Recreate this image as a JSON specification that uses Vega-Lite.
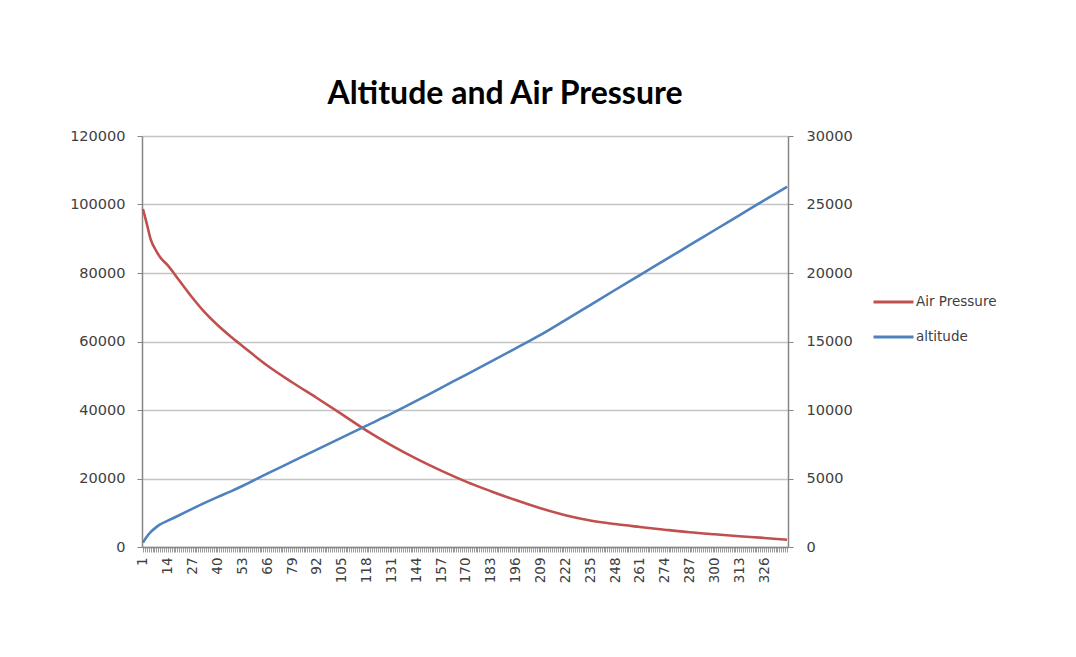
{
  "$schema": "https://vega.github.io/schema/vega-lite/v6.json",
  "width": 646,
  "height": 411,
  "autosize": "none",
  "padding": {"left": 142, "top": 136, "right": 288, "bottom": 110},
  "background": "white",
  "config": {"view": {"stroke": null}},
  "title": {"text": "Altitude and Air Pressure", "font": "Lato", "fontSize": 32, "fontWeight": "bold", "color": "#000000", "anchor": "middle", "dx": 40, "offset": 17},
  "data": {"values": [
    {"index": 1, "series": "Air Pressure", "value": 98700},
    {"index": 3, "series": "Air Pressure", "value": 94400},
    {"index": 5, "series": "Air Pressure", "value": 89900},
    {"index": 8, "series": "Air Pressure", "value": 86400},
    {"index": 10, "series": "Air Pressure", "value": 84600},
    {"index": 14, "series": "Air Pressure", "value": 82200},
    {"index": 20, "series": "Air Pressure", "value": 77800},
    {"index": 27, "series": "Air Pressure", "value": 72700},
    {"index": 33, "series": "Air Pressure", "value": 68700},
    {"index": 40, "series": "Air Pressure", "value": 64800},
    {"index": 47, "series": "Air Pressure", "value": 61400},
    {"index": 53, "series": "Air Pressure", "value": 58700},
    {"index": 66, "series": "Air Pressure", "value": 53000},
    {"index": 79, "series": "Air Pressure", "value": 48100},
    {"index": 92, "series": "Air Pressure", "value": 43500},
    {"index": 105, "series": "Air Pressure", "value": 38800},
    {"index": 118, "series": "Air Pressure", "value": 34000},
    {"index": 131, "series": "Air Pressure", "value": 29700},
    {"index": 144, "series": "Air Pressure", "value": 25800},
    {"index": 157, "series": "Air Pressure", "value": 22300},
    {"index": 170, "series": "Air Pressure", "value": 19100},
    {"index": 183, "series": "Air Pressure", "value": 16300},
    {"index": 196, "series": "Air Pressure", "value": 13700},
    {"index": 209, "series": "Air Pressure", "value": 11300},
    {"index": 222, "series": "Air Pressure", "value": 9300},
    {"index": 235, "series": "Air Pressure", "value": 7750},
    {"index": 248, "series": "Air Pressure", "value": 6700},
    {"index": 261, "series": "Air Pressure", "value": 5850},
    {"index": 274, "series": "Air Pressure", "value": 5050},
    {"index": 287, "series": "Air Pressure", "value": 4300},
    {"index": 300, "series": "Air Pressure", "value": 3700},
    {"index": 313, "series": "Air Pressure", "value": 3150},
    {"index": 326, "series": "Air Pressure", "value": 2650},
    {"index": 338, "series": "Air Pressure", "value": 2100},
    {"index": 1, "series": "altitude", "value": 330},
    {"index": 3, "series": "altitude", "value": 750},
    {"index": 5, "series": "altitude", "value": 1080},
    {"index": 8, "series": "altitude", "value": 1450},
    {"index": 10, "series": "altitude", "value": 1650},
    {"index": 14, "series": "altitude", "value": 1920},
    {"index": 20, "series": "altitude", "value": 2320},
    {"index": 27, "series": "altitude", "value": 2800},
    {"index": 33, "series": "altitude", "value": 3200},
    {"index": 40, "series": "altitude", "value": 3640},
    {"index": 47, "series": "altitude", "value": 4060},
    {"index": 53, "series": "altitude", "value": 4450},
    {"index": 66, "series": "altitude", "value": 5350},
    {"index": 79, "series": "altitude", "value": 6230},
    {"index": 92, "series": "altitude", "value": 7110},
    {"index": 105, "series": "altitude", "value": 7980},
    {"index": 118, "series": "altitude", "value": 8860},
    {"index": 131, "series": "altitude", "value": 9730},
    {"index": 144, "series": "altitude", "value": 10660},
    {"index": 157, "series": "altitude", "value": 11620},
    {"index": 170, "series": "altitude", "value": 12570},
    {"index": 183, "series": "altitude", "value": 13530},
    {"index": 196, "series": "altitude", "value": 14500},
    {"index": 209, "series": "altitude", "value": 15480},
    {"index": 222, "series": "altitude", "value": 16560},
    {"index": 235, "series": "altitude", "value": 17660},
    {"index": 248, "series": "altitude", "value": 18760},
    {"index": 261, "series": "altitude", "value": 19850},
    {"index": 274, "series": "altitude", "value": 20940},
    {"index": 287, "series": "altitude", "value": 22030},
    {"index": 300, "series": "altitude", "value": 23120},
    {"index": 313, "series": "altitude", "value": 24210},
    {"index": 326, "series": "altitude", "value": 25300},
    {"index": 338, "series": "altitude", "value": 26300}
  ]},
  "layer": [
    {
      "transform": [{"filter": "datum.series === 'Air Pressure'"}],
      "mark": {"type": "line", "strokeWidth": 2.6, "interpolate": "monotone"},
      "encoding": {
        "x": {
          "field": "index", "type": "quantitative",
          "scale": {"domain": [0.5, 338.5], "nice": false, "zero": false},
          "axis": {
            "title": null, "tickCount": 338, "labelExpr": "(datum.value - 1) % 13 === 0 ? datum.value : ''",
            "labelAngle": -90, "labelOverlap": false, "labelFlush": false, "labelBound": false,
            "labelFont": "DejaVu Sans", "labelFontSize": 13.5, "labelColor": "#404040", "labelPadding": 5,
            "domainColor": "#868686", "domainWidth": 1.5, "tickColor": "#9a9a9a", "tickSize": 5, "grid": false
          }
        },
        "y": {
          "field": "value", "type": "quantitative",
          "scale": {"domain": [0, 120000], "nice": false, "zero": true},
          "axis": {
            "orient": "left", "title": null, "values": [0, 20000, 40000, 60000, 80000, 100000, 120000],
            "format": "d", "grid": true, "gridColor": "#c4c4c4", "gridWidth": 1.4,
            "domainColor": "#868686", "domainWidth": 1.5, "tickColor": "#868686", "tickSize": 5,
            "labelFont": "DejaVu Sans", "labelFontSize": 14.5, "labelColor": "#404040", "labelPadding": 12
          }
        },
        "color": {
          "field": "series", "type": "nominal",
          "scale": {"domain": ["Air Pressure", "altitude"], "range": ["#C0504D", "#4F81BD"]},
          "legend": {
            "title": null, "orient": "none", "legendX": 730, "legendY": 156,
            "symbolType": "stroke", "symbolSize": 1600, "symbolStrokeWidth": 3,
            "clipHeight": 20, "rowPadding": 15, "labelOffset": 1, "padding": 0,
            "labelFont": "DejaVu Sans", "labelFontSize": 13.5, "labelColor": "#404040"
          }
        }
      }
    },
    {
      "transform": [{"filter": "datum.series === 'altitude'"}],
      "mark": {"type": "line", "strokeWidth": 2.6, "interpolate": "monotone"},
      "encoding": {
        "x": {"field": "index", "type": "quantitative"},
        "y": {
          "field": "value", "type": "quantitative",
          "scale": {"domain": [0, 30000], "nice": false, "zero": true},
          "axis": {
            "orient": "right", "title": null, "values": [0, 5000, 10000, 15000, 20000, 25000, 30000],
            "format": "d", "grid": false,
            "domainColor": "#868686", "domainWidth": 1.5, "tickColor": "#868686", "tickSize": 5,
            "labelFont": "DejaVu Sans", "labelFontSize": 14.5, "labelColor": "#404040", "labelPadding": 13
          }
        },
        "color": {"field": "series", "type": "nominal"}
      }
    }
  ],
  "resolve": {"scale": {"y": "independent"}}
}
